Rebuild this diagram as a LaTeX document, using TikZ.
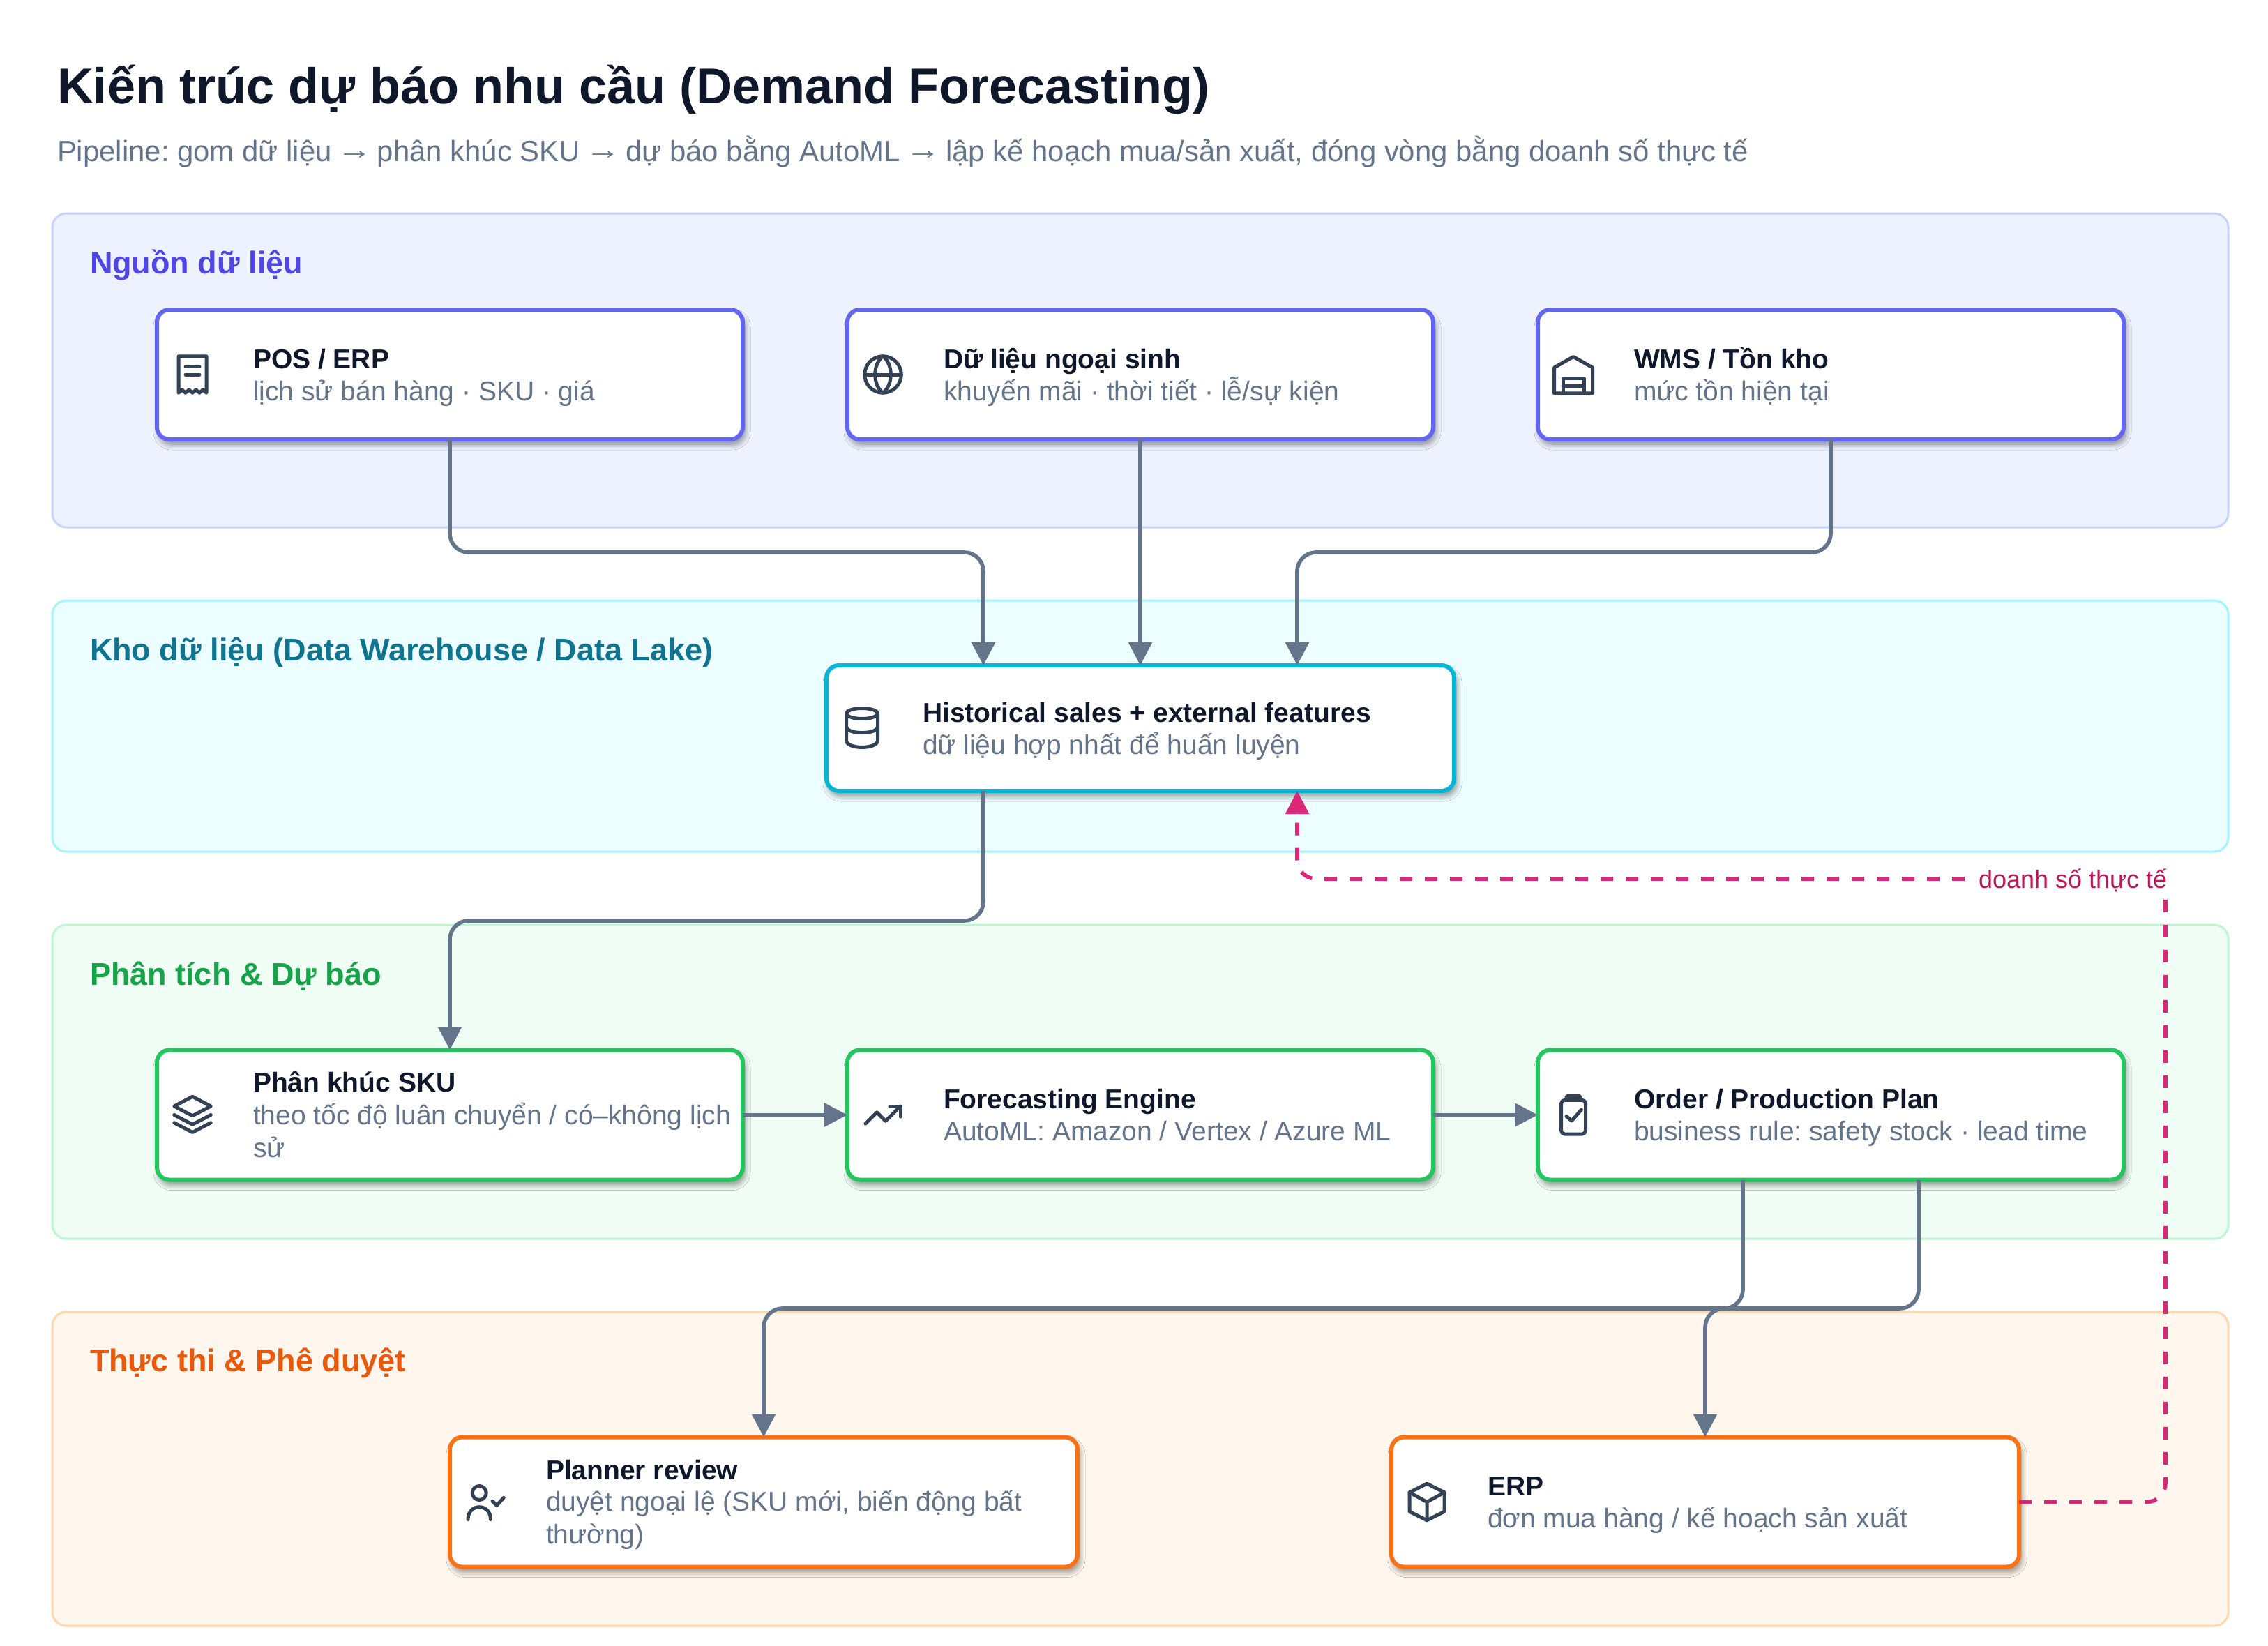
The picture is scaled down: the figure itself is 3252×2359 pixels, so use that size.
\documentclass[tikz,border=0pt]{standalone}
\usepackage{fontspec}
\usepackage{graphicx}
\setmainfont{Liberation Sans}
\usetikzlibrary{arrows.meta,shadows.blur}
\frenchspacing
\definecolor{ink}{HTML}{0F172A}
\definecolor{slatetxt}{HTML}{64748B}
\definecolor{iconc}{HTML}{334155}
\definecolor{linkc}{HTML}{64748B}
\definecolor{pinkc}{HTML}{DB2777}
\definecolor{pinktxt}{HTML}{BE185D}
\definecolor{laneAf}{HTML}{EEF2FF}\definecolor{laneAd}{HTML}{C7D2FE}\definecolor{boxA}{HTML}{6366F1}\definecolor{titA}{HTML}{4F46E5}
\definecolor{laneBf}{HTML}{ECFEFF}\definecolor{laneBd}{HTML}{A5F3FC}\definecolor{boxB}{HTML}{06B6D4}\definecolor{titB}{HTML}{0E7490}
\definecolor{laneCf}{HTML}{F0FDF4}\definecolor{laneCd}{HTML}{BBF7D0}\definecolor{boxC}{HTML}{22C55E}\definecolor{titC}{HTML}{16A34A}
\definecolor{laneDf}{HTML}{FFF7ED}\definecolor{laneDd}{HTML}{FED7AA}\definecolor{boxD}{HTML}{F97316}\definecolor{titD}{HTML}{EA580C}
\newcommand{\fs}[2]{\fontsize{#1}{#2}\selectfont}
\newcommand{\longarrow}{\makebox[41.9pt][c]{\raisebox{3pt}{\scalebox{1.2}[1]{→}}}}
\tikzset{
  lane/.style={draw=#1,line width=3pt,rounded corners=20pt},
  card/.style={rectangle,draw=#1,fill=white,line width=6pt,rounded corners=18pt,inner sep=0pt,outer sep=0pt,
    minimum height=186pt,
    blur shadow={shadow xshift=3pt,shadow yshift=-7pt,shadow blur radius=8pt,shadow blur steps=12,shadow opacity=46}},
  wide/.style={minimum width=900pt},
  std/.style={minimum width=840pt},
  txt/.style={anchor=base west,inner sep=0pt,outer sep=0pt},
  head/.style={txt,font=\bfseries\fs{39}{47},text=ink},
  subt/.style={txt,font=\fs{39}{47},text=slatetxt},
  lanetitle/.style={txt,font=\bfseries\fs{45}{54}},
  link/.style={draw=linkc,line width=5.6pt,rounded corners=27pt,-{Triangle[length=33pt,width=33pt]}},
  linkh/.style={draw=linkc,line width=5.6pt,-{Triangle[length=33pt,width=33pt]}},
  back/.style={draw=pinkc,line width=5.6pt,rounded corners=27pt,dash pattern=on 18pt off 18pt,-{Triangle[length=33pt,width=33pt]}},
  icon/.style={draw=iconc,line width=5pt,line cap=round,line join=round},
  iconat/.style 2 args={shift={(#1,#2)},x=2.5pt,y=-2.5pt,icon},
}
\begin{document}
\begin{tikzpicture}[x=1pt,y=-1pt]
\useasboundingbox (0,0) rectangle (3252,2359);
\fill[white] (0,0) rectangle (3252,2359);
% title
\node[txt,font=\bfseries\fs{72}{80},text=ink] (title) at (82,148) {Kiến trúc dự báo nhu cầu (Demand Forecasting)};
\node[txt,font=\fs{41.9}{50},text=slatetxt] (subtitle) at (82,231) {Pipeline: gom dữ liệu \longarrow{} phân khúc SKU \longarrow{} dự báo bằng AutoML \longarrow{} lập kế hoạch mua/sản xuất, đóng vòng bằng doanh số thực tế};
% lanes
\path[lane=laneAd,fill=laneAf] (75,306) rectangle (3195,756);
\path[lane=laneBd,fill=laneBf] (75,861) rectangle (3195,1221);
\path[lane=laneCd,fill=laneCf] (75,1326) rectangle (3195,1776);
\path[lane=laneDd,fill=laneDf] (75,1881) rectangle (3195,2331);
\node[lanetitle,text=titA] (laneA) at (129,392) {Nguồn dữ liệu};
\node[lanetitle,text=titB] (laneB) at (129,947) {Kho dữ liệu (Data Warehouse / Data Lake)};
\node[lanetitle,text=titC] (laneC) at (129,1412) {Phân tích \& Dự báo};
\node[lanetitle,text=titD] (laneD) at (129,1966) {Thực thi \& Phê duyệt};
% cards
\node[card=boxA,std] (pos) at (645,537) {};
\node[card=boxA,std] (ext) at (1635,537) {};
\node[card=boxA,std] (wms) at (2625,537) {};
\node[card=boxB,wide,minimum height=180pt] (hist) at (1635,1044) {};
\node[card=boxC,std] (seg) at (645,1598.5) {};
\node[card=boxC,std] (fc) at (1635,1598.5) {};
\node[card=boxC,std] (plan) at (2625,1598.5) {};
\node[card=boxD,wide] (rev) at (1095,2153.5) {};
\node[card=boxD,wide] (erp) at (2445,2153.5) {};
% card text
\node[head] (posA) at (363,528) {POS / ERP};
\node[subt] (posB) at (363,574) {lịch sử bán hàng · SKU · giá};
\node[head] (extA) at (1353,528) {Dữ liệu ngoại sinh};
\node[subt] (extB) at (1353,574) {khuyến mãi · thời tiết · lễ/sự kiện};
\node[head] (wmsA) at (2343,528) {WMS / Tồn kho};
\node[subt] (wmsB) at (2343,574) {mức tồn hiện tại};
\node[head] (histA) at (1323,1035) {Historical sales + external features};
\node[subt] (histB) at (1323,1081) {dữ liệu hợp nhất để huấn luyện};
\node[head] (segA) at (363,1565) {Phân khúc SKU};
\node[subt] (segB) at (363,1612) {theo tốc độ luân chuyển / có–không lịch};
\node[subt] (segC) at (363,1659) {sử};
\node[head] (fcA) at (1353,1589.5) {Forecasting Engine};
\node[subt] (fcB) at (1353,1635.5) {AutoML: Amazon / Vertex / Azure ML};
\node[head] (planA) at (2343,1589.5) {Order / Production Plan};
\node[subt] (planB) at (2343,1635.5) {business rule: safety stock · lead time};
\node[head] (revA) at (783,2121) {Planner review};
\node[subt] (revB) at (783,2166.5) {duyệt ngoại lệ (SKU mới, biến động bất};
\node[subt] (revC) at (783,2213.5) {thường)};
\node[head] (erpA) at (2133,2144.5) {ERP};
\node[subt] (erpB) at (2133,2190.5) {đơn mua hàng / kế hoạch sản xuất};
% icons
\begin{scope}[iconat={246}{507}]
  \draw (4,1.5) -- (20,1.5) -- (20,22.5) -- (18,20.7) -- (16,22.5) -- (14,20.7) -- (12,22.5) -- (10,20.7) -- (8,22.5) -- (6,20.7) -- (4,22.5) -- cycle;
  \draw (8,7.5) -- (16,7.5) (8,12) -- (16,12);
\end{scope}
\begin{scope}[iconat={1236}{507}]
  \draw (12,12) circle (10.5);
  \draw (1.5,12) -- (22.5,12);
  \draw (12,1.5) .. controls (6,6) and (6,18) .. (12,22.5) .. controls (18,18) and (18,6) .. (12,1.5) -- cycle;
\end{scope}
\begin{scope}[iconat={2226}{507}]
  \draw (1,22.7) -- (1,8) -- (12,1.8) -- (23,8) -- (23,22.7) -- cycle;
  \draw (6,22.7) -- (6,14.2) -- (18,14.2) -- (18,22.7) (6,18.4) -- (18,18.4);
\end{scope}
\begin{scope}[iconat={1206}{1010.5}]
  \draw (12,5) ellipse (9 and 3);
  \draw (3,5) -- (3,20.4) .. controls (3,25.7) and (21,25.7) .. (21,20.4) -- (21,5);
  \draw (3,12.5) .. controls (3,17.2) and (21,17.2) .. (21,12.5);
\end{scope}
\begin{scope}[iconat={246}{1568.5}]
  \draw (12,1.5) -- (22.5,7) -- (12,12.5) -- (1.5,7) -- cycle;
  \draw (1.5,12) -- (12,17.5) -- (22.5,12);
  \draw (1.5,16.5) -- (12,22) -- (22.5,16.5);
\end{scope}
\begin{scope}[iconat={1236}{1568.5}]
  \draw (2,17) -- (8.5,10.5) -- (13.5,15.5) -- (22,7);
  \draw (16,7) -- (22,7) -- (22,13);
\end{scope}
\begin{scope}[iconat={2226}{1568.5}]
  \draw[rounded corners=5pt] (5,3.5) rectangle (19,23);
  \draw[fill=iconc,rounded corners=2pt] (8,1.2) rectangle (16,3.5);
  \draw (8,12.8) -- (11,15.4) -- (16.6,9);
\end{scope}
\begin{scope}[iconat={666}{2123.5}]
  \draw (8.5,6.8) circle (4);
  \draw (2,22) .. controls (2,12.5) and (15,12.5) .. (15,22);
  \draw (16,11.5) -- (18.5,14) -- (22.5,9.5);
\end{scope}
\begin{scope}[iconat={2016}{2123.5}]
  \draw (12,1.5) -- (22,6.5) -- (22,17.5) -- (12,22.5) -- (2,17.5) -- (2,6.5) -- cycle;
  \draw (2,6.5) -- (12,12) -- (22,6.5) (12,12) -- (12,22.5);
\end{scope}
% connector end points
\coordinate (histTa) at (1410,954);
\coordinate (histTb) at (1635,954);
\coordinate (histTc) at (1860,954);
\coordinate (histBa) at (1410,1134);
\coordinate (histBc) at (1860,1134);
\coordinate (planBa) at (2499,1691.5);
\coordinate (planBb) at (2751,1691.5);
% connectors
\draw[link] (pos.south) -- (645,792) -- (1410,792) -- (histTa);
\draw[link] (ext.south) -- (histTb);
\draw[link] (wms.south) -- (2625,792) -- (1860,792) -- (histTc);
\draw[link] (histBa) -- (1410,1320) -- (645,1320) -- (seg.north);
\draw[linkh] (seg.east) -- (fc.west);
\draw[linkh] (fc.east) -- (plan.west);
\draw[link] (planBa) -- (2499,1876) -- (1095,1876) -- (rev.north);
\draw[link] (planBb) -- (2751,1876) -- (2445,1876) -- (erp.north);
\draw[back] (erp.east) -- (3105,2153.5) -- (3105,1260) -- (1860,1260) -- (histBc);
\node[fill=white,inner sep=0pt,minimum height=42pt,minimum width=298pt] (fb) at (2971,1260) {};
\node[txt,font=\fs{36}{42},text=pinktxt] (fbt) at (2837,1273) {doanh số thực tế};
\end{tikzpicture}
\end{document}
